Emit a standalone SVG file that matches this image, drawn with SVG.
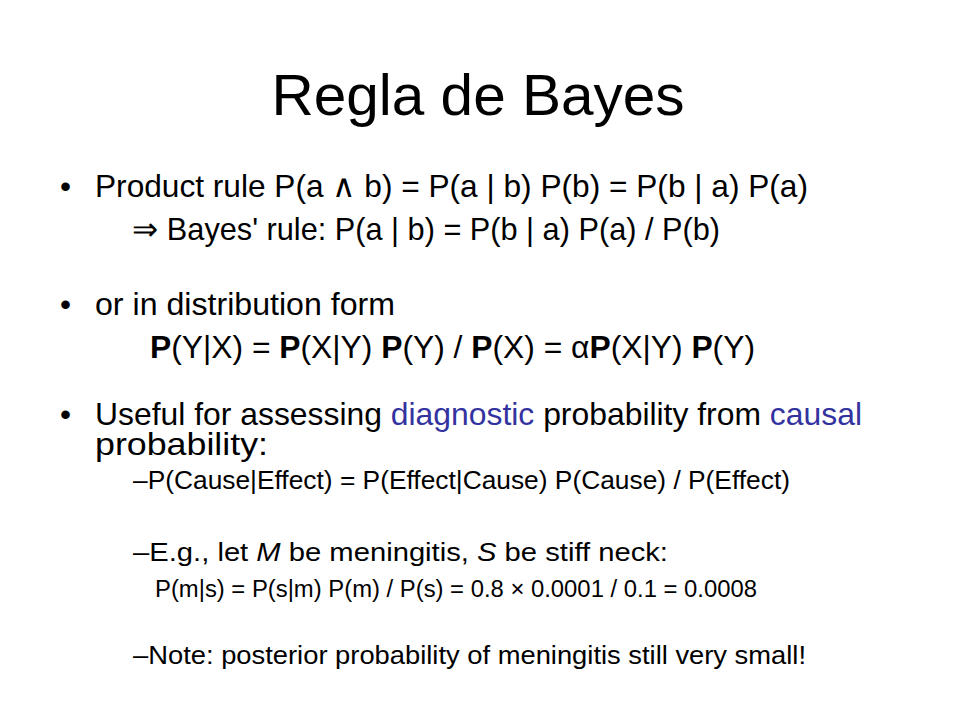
<svg xmlns="http://www.w3.org/2000/svg" width="960" height="720" viewBox="0 0 960 720">
<style>
text{font-family:"Liberation Sans",Arial,sans-serif;fill:#000}
.b{font-size:31.5px}.s{font-size:26px}.t{font-size:23.5px}.blue{fill:#3333a0}
</style>
<rect width="960" height="720" fill="#fff"/>
<text x="478" y="115" font-size="58" text-anchor="middle" textLength="413" lengthAdjust="spacingAndGlyphs">Regla de Bayes</text>
<text class="b" x="60" y="197">•</text>
<text class="b" x="95" y="197" textLength="713" lengthAdjust="spacingAndGlyphs">Product rule P(a ∧ b) = P(a | b) P(b) = P(b | a) P(a)</text>
<text class="b" x="132" y="240" textLength="588" lengthAdjust="spacingAndGlyphs">⇒ Bayes' rule: P(a | b) = P(b | a) P(a) / P(b)</text>
<text class="b" x="60" y="315">•</text>
<text class="b" x="95" y="315" textLength="300" lengthAdjust="spacingAndGlyphs">or in distribution form</text>
<text class="b" x="150" y="358" textLength="605" lengthAdjust="spacingAndGlyphs"><tspan font-weight="bold">P</tspan>(Y|X) = <tspan font-weight="bold">P</tspan>(X|Y) <tspan font-weight="bold">P</tspan>(Y) / <tspan font-weight="bold">P</tspan>(X) = α<tspan font-weight="bold">P</tspan>(X|Y) <tspan font-weight="bold">P</tspan>(Y)</text>
<text class="b" x="60" y="425">•</text>
<text class="b" x="95" y="425" textLength="767" lengthAdjust="spacingAndGlyphs">Useful for assessing <tspan class="blue">diagnostic</tspan> probability from <tspan class="blue">causal</tspan></text>
<text class="b" x="95" y="455" textLength="173" lengthAdjust="spacingAndGlyphs">probability:</text>
<text class="s" x="133" y="489" textLength="657" lengthAdjust="spacingAndGlyphs">–P(Cause|Effect) = P(Effect|Cause) P(Cause) / P(Effect)</text>
<text class="s" x="133" y="561" textLength="535" lengthAdjust="spacingAndGlyphs">–E.g., let <tspan font-style="italic">M</tspan> be meningitis, <tspan font-style="italic">S</tspan> be stiff neck:</text>
<text class="t" x="155" y="597" textLength="602" lengthAdjust="spacingAndGlyphs">P(m|s) = P(s|m) P(m) / P(s) = 0.8 × 0.0001 / 0.1 = 0.0008</text>
<text class="s" x="133" y="664" textLength="673" lengthAdjust="spacingAndGlyphs">–Note: posterior probability of meningitis still very small!</text>
</svg>
